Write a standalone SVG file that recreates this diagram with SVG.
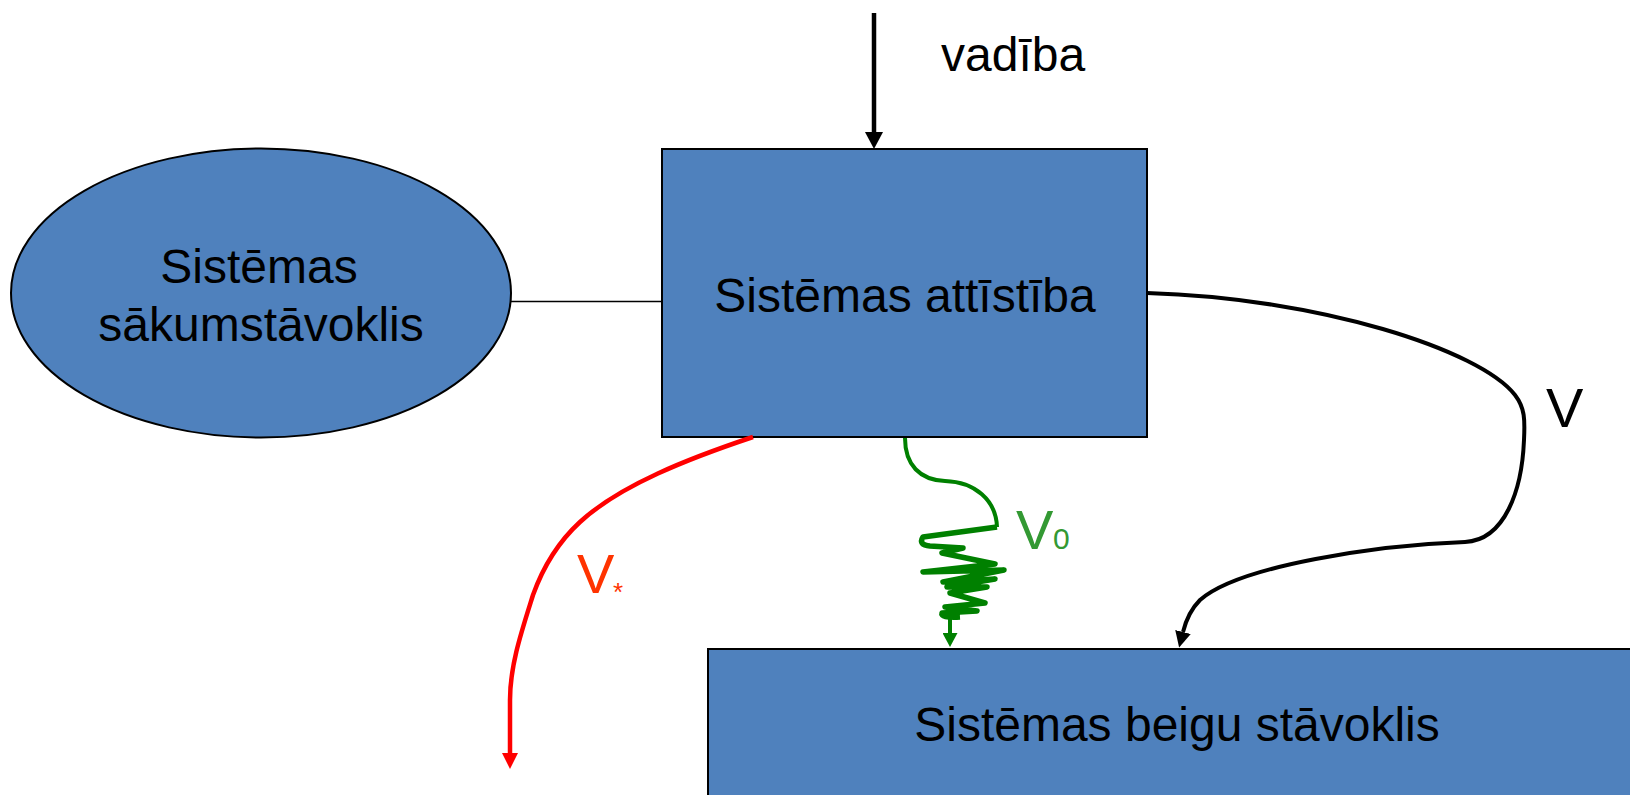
<svg xmlns="http://www.w3.org/2000/svg" width="1630" height="795" viewBox="0 0 1630 795">
<style>
.node{fill:#4F81BD;stroke:#000;stroke-width:2}
.lbl{font-family:"Liberation Sans",Arial,sans-serif;font-size:48px;fill:#000;text-anchor:middle}
.v{font-family:"Liberation Sans",Arial,sans-serif;font-size:56px}
.conn{fill:none;stroke-linecap:butt;stroke-linejoin:round}
</style>
<defs>
<marker id="ahBlack" markerUnits="userSpaceOnUse" markerWidth="18" markerHeight="18" refX="0" refY="9" orient="auto" viewBox="0 0 18 18"><path d="M0,0 L17,9 L0,18 z" fill="#000"/></marker>
<marker id="ahBlack2" markerUnits="userSpaceOnUse" markerWidth="16" markerHeight="16" refX="0" refY="8" orient="auto" viewBox="0 0 16 16"><path d="M0,0 L16,8 L0,16 z" fill="#000"/></marker>
<marker id="ahRed" markerUnits="userSpaceOnUse" markerWidth="16" markerHeight="16" refX="0" refY="8" orient="auto" viewBox="0 0 16 16"><path d="M0,0 L16,8 L0,16 z" fill="#FF0000"/></marker>
<marker id="ahGreen" markerUnits="userSpaceOnUse" markerWidth="15" markerHeight="15" refX="0" refY="7.5" orient="auto" viewBox="0 0 15 15"><path d="M0,0 L14,7.5 L0,15 z" fill="#008000"/></marker>
</defs>
<rect width="1630" height="795" fill="#fff"/>

<g id="start">
<ellipse class="node" cx="261" cy="293" rx="250" ry="144.5" stroke-width="1.5"/>
<text class="lbl" x="259" y="283">Sistēmas</text>
<text class="lbl" x="261" y="341">sākumstāvoklis</text>
</g>

<g id="development">
<rect class="node" x="662" y="149" width="485" height="288"/>
<text class="lbl" x="905" y="312">Sistēmas attīstība</text>
</g>

<g id="end">
<rect class="node" x="708" y="649" width="940" height="160" stroke="#333"/>
<text class="lbl" x="1177" y="741">Sistēmas beigu stāvoklis</text>
</g>

<g id="connectors">
<line x1="511" y1="301.5" x2="662" y2="301.5" stroke="#000" stroke-width="1.5"/>
<path class="conn" d="M874,13 L874,132" stroke="#000" stroke-width="4.5" marker-end="url(#ahBlack)"/>
<path class="conn" d="M1147,293 C1320,298 1480,350 1515,395 C1525,408 1525,420 1524,440 C1522,490 1505,540 1465,542 C1380,545 1240,565 1200,600 C1190,610 1186,620 1183,632" stroke="#000" stroke-width="4" marker-end="url(#ahBlack2)"/>
<path class="conn" d="M753,437 C690,458 620,485 580,522 C555,545 542,570 533,595 C522,630 510,665 510,700 L510,753" stroke="#FF0000" stroke-width="4.5" marker-end="url(#ahRed)"/>
<path class="conn" d="M905,438 C905,465 920,480 945,481 C975,482 996,500 997,527" stroke="#008000" stroke-width="4"/>
<path class="conn" d="M997,527 L923,537 Q918,545 930,546 L963,548 L942,553 L995,564 L923,572 L1004,570 L943,582 L995,579 L947,587 L987,587 L950,593 L985,603 L945,607 L977,611 L942,613 Q940,618 960,617" stroke="#008000" stroke-width="5.5"/>
<path class="conn" d="M950,613 L950,633" stroke="#008000" stroke-width="4" marker-end="url(#ahGreen)"/>
</g>

<g id="labels">
<text x="941" y="71" font-family="Liberation Sans, Arial, sans-serif" font-size="48" fill="#000">vadība</text>
<text class="v" x="1546" y="427" fill="#000">V</text>
<text class="v" x="577" y="593" fill="#FF3300">V</text>
<text x="613" y="601" font-family="Liberation Sans, Arial, sans-serif" font-size="26" fill="#FF3300">*</text>
<text class="v" x="1016" y="549" fill="#339933">V</text>
<text x="1053" y="549" font-family="Liberation Sans, Arial, sans-serif" font-size="30" fill="#339933">0</text>
</g>
</svg>
